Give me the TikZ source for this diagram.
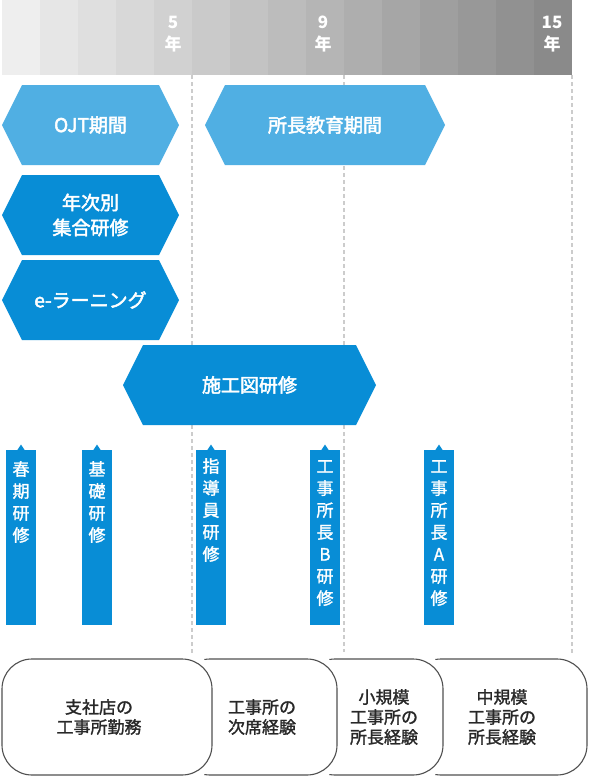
\documentclass[tikz,border=0pt]{standalone}
\usepackage{fontspec}
\setmainfont{Noto Sans CJK JP}
\newfontfamily\medfont[FakeBold=1.5]{Noto Sans CJK JP}
\newfontfamily\hexfont[FakeBold=2.5]{Noto Sans CJK JP}
\definecolor{lb}{RGB}{80,175,227}
\definecolor{db}{RGB}{8,141,214}
\definecolor{dline}{RGB}{204,204,204}
\definecolor{bord}{RGB}{80,80,80}
\definecolor{txt}{RGB}{40,40,40}
\begin{document}
\begin{tikzpicture}[x=1pt,y=-1pt,
  hexlabel/.style={text=white, font=\fontsize{19}{25}\selectfont\hexfont, align=center, inner sep=0pt},
  toplabel/.style={text=white, font=\fontsize{17}{22}\selectfont\bfseries, align=center, inner sep=0pt},
  barlabel/.style={text=white, font=\fontsize{17}{22}\selectfont\medfont, align=center, inner sep=0pt, anchor=north},
  boxlabel/.style={text=txt, font=\fontsize{17}{20}\selectfont\medfont, align=center, inner sep=0pt},
  dashline/.style={draw=dline, line width=1.5pt, dash pattern=on 4pt off 3pt},
  bar/.style={fill=db},
  boxhalo/.style={draw=white, fill=white, line width=14pt, rounded corners=30pt},
  boxline/.style={draw=bord, line width=1.1pt, rounded corners=30pt}]
\useasboundingbox (0,0) rectangle (595,780);
\fill[white] (0,0) rectangle (595,780);
% top gradient bar
\foreach \i in {0,...,14} {
  \pgfmathtruncatemacro\g{238-\i*7.1}
  \definecolor{colg}{RGB}{\g,\g,\g}
  \fill[colg] ({2+38*\i},0) rectangle ({40+38*\i},75);
}
\node[toplabel] (y5) at (173,34) {5\\年};
\node[toplabel] (y9) at (323,34) {9\\年};
\node[toplabel] (y15) at (552,34) {15\\年};
% dashed guide lines
\coordinate (d1t) at (192,75); \coordinate (d1b) at (192,655);
\coordinate (d2t) at (344,75); \coordinate (d2b) at (344,655);
\coordinate (d3t) at (572,75); \coordinate (d3b) at (572,655);
\draw[dashline] (d1t) -- (d1b);
\draw[dashline] (d2t) -- (d2b);
\draw[dashline] (d3t) -- (d3b);
% hexagons
\fill[lb] (2,125) -- (22,85) -- (159,85) -- (179,125) -- (159,165) -- (22,165) -- cycle;
\node[hexlabel] (ojt) at (90.5,125) {OJT期間};
\fill[lb] (205,125) -- (225,85) -- (425,85) -- (445,125) -- (425,165) -- (225,165) -- cycle;
\node[hexlabel] (shocho) at (325,125) {所長教育期間};
\fill[db] (2,215) -- (22,175) -- (159,175) -- (179,215) -- (159,255) -- (22,255) -- cycle;
\node[hexlabel] (nenji) at (90.5,215) {年次別\\集合研修};
\fill[db] (2,300) -- (22,260) -- (159,260) -- (179,300) -- (159,340) -- (22,340) -- cycle;
\node[hexlabel] (elearn) at (90.5,300) {e-ラーニング};
\fill[db] (123,385) -- (143,345) -- (356,345) -- (376,385) -- (356,425) -- (143,425) -- cycle;
\node[hexlabel] (sekou) at (249.5,385) {施工図研修};
% vertical bars
\foreach \cx/\nm in {21/b1,97/b2,211/b3,325/b4,439/b5} {
  \fill[bar] ({\cx-15},450) rectangle ({\cx+15},625);
  \fill[bar] ({\cx-4},450.5) -- (\cx,444.5) -- ({\cx+4},450.5) -- cycle;
}
\node[barlabel] (shunki) at (21,461) {春\\期\\研\\修};
\node[barlabel] (kiso) at (97,461) {基\\礎\\研\\修};
\node[barlabel] (shido) at (211,458) {指\\導\\員\\研\\修};
\node[barlabel] (kojib) at (325,460) {工\\事\\所\\長\\B\\研\\修};
\node[barlabel] (kojia) at (439,460) {工\\事\\所\\長\\A\\研\\修};
% bottom boxes (back to front)
\path[boxhalo] (411,659) rectangle (587,775);
\path[boxline] (411,659) rectangle (587,775);
\path[boxhalo] (305,659) rectangle (443,775);
\path[boxline] (305,659) rectangle (443,775);
\path[boxhalo] (180,659) rectangle (337,775);
\path[boxline] (180,659) rectangle (337,775);
\path[boxhalo] (2,659) rectangle (212,775);
\path[boxline] (2,659) rectangle (212,775);
\node[boxlabel] (k1) at (99,717) {支社店の\\工事所勤務};
\node[boxlabel] (k2) at (262,717) {工事所の\\次席経験};
\node[boxlabel] (k3) at (384,717) {小規模\\工事所の\\所長経験};
\node[boxlabel] (k4) at (502,717) {中規模\\工事所の\\所長経験};
\end{tikzpicture}
\end{document}
